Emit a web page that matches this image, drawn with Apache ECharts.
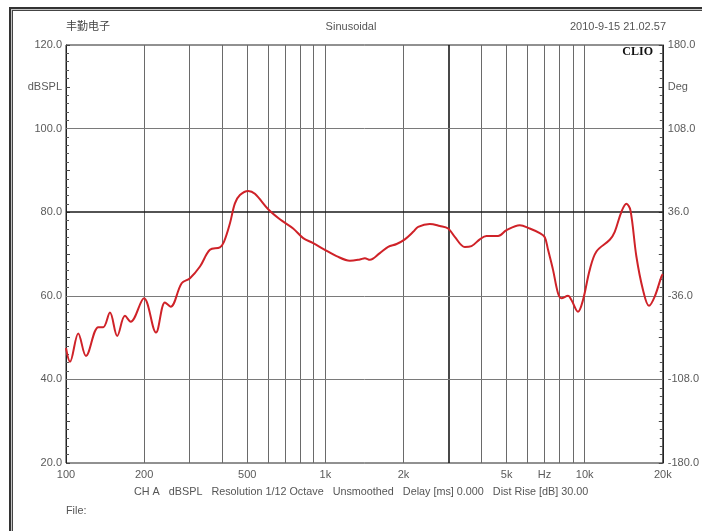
<!DOCTYPE html>
<html>
<head>
<meta charset="utf-8">
<script src="https://cdn.jsdelivr.net/npm/echarts@6/dist/echarts.min.js"></script>
<style>
html,body{margin:0;padding:0;background:#fff;}
#wrap{position:relative;width:702px;height:531px;overflow:hidden;background:#fff;}
#frame{position:absolute;left:9px;top:7px;width:800px;height:800px;border-left:2px solid #333;border-top:2px solid #333;background:#c4c4c4;}
#frameIn{position:absolute;left:1px;top:1px;right:0;bottom:0;border-left:1px solid #444;border-top:1px solid #444;background:#fff;}
#chart{position:absolute;left:0;top:0;width:702px;height:531px;}
</style>
</head>
<body>
<div id="wrap">
  <div id="frame"><div id="frameIn"></div></div>
  <div id="chart"></div>
</div>
<script>
// Frequency (Hz) of the sampled points
var freqs = [100,103.6,111.5,119.4,133.2,139.2,147.7,157.6,168.8,177.6,199.8,222.3,240.7,253.2,279.2,300.6,328.5,358.9,392.2,406.4,428.5,448,468.3,504.1,535,602,667.8,751.3,821.3,897.4,995.6,1104,1243,1358,1420,1485,1622,1746,1882,2025,2180,2279,2527,2762,2974,3155,3448,3660,3938,4180,4633,4993,5617,6138,6708,7013,7221,7547,7889,8133,8620,8885,9423,9849,10454,11095,12487,13052,13850,14478,15001,15818,16775,17692,18610,19752,20000];
// Sound pressure level (dBSPL)
var spl = [47.5,44.2,51.0,45.6,52.5,52.5,56.0,50.4,55.2,53.8,59.4,51.2,58.4,57.4,63.0,64.2,67.0,71.0,71.6,72.9,77.3,82.1,84.1,85.1,84.4,80.7,78.3,76.1,73.8,72.6,71.0,69.5,68.4,68.7,69.0,68.6,70.2,71.7,72.4,73.5,75.3,76.5,77.2,76.7,76.1,74.1,71.7,71.9,73.5,74.3,74.3,75.7,76.9,76.1,75.0,74.0,71.0,66.2,60.6,59.4,60.0,59.0,56.2,59.0,66.2,70.6,73.4,75.3,80.1,82.0,80.5,69.4,61.4,57.6,59.8,64.6,65.2];
// Vertical grid frequencies
var gridFreqs = [200,300,400,500,600,700,800,900,1000,2000,3000,4000,5000,6000,7000,8000,9000,10000];
var markerFreq = 3000;
// X tick labels
var xTickValues = [100,200,500,1000,2000,5000,7000,10000,20000];
var xTickLabels = ['100','200','500','1k','2k','5k','Hz','10k','20k'];
// Horizontal grid levels (dB)
var gridLevels = [40,60,100];
var markerLevel = 80;
// Y labels
var leftLabels = {120:'120.0',110:'dBSPL',100:'100.0',80:'80.0',60:'60.0',40:'40.0',20:'20.0'};
var rightLabels = {'180':'180.0','144':'Deg','108':'108.0','36':'36.0','-36':'-36.0','-108':'-108.0','-180':'-180.0'};
// Header / footer texts
var titleLeft = '丰勤电子';
var titleCenter = 'Sinusoidal';
var titleRight = '2010-9-15 21.02.57';
var logoText = 'CLIO';
var footerText = 'CH A   dBSPL   Resolution 1/12 Octave   Unsmoothed   Delay [ms] 0.000   Dist Rise [dB] 30.00';
var fileText = 'File:';

var FONT = '"Liberation Sans", Arial, sans-serif';
var LABEL_COLOR = '#5a5a5a';

var gridMarks = [];
gridFreqs.forEach(function (f) {
  var isMarker = f === markerFreq;
  var idx = xTickValues.indexOf(f);
  gridMarks.push({
    xAxis: f,
    lineStyle: {color: isMarker ? '#1a1a1a' : '#6a6a6a', width: isMarker ? 1.6 : 1, type: 'solid'},
    label: idx >= 0 ? {show: true, formatter: xTickLabels[idx]} : {show: false}
  });
});
xTickValues.forEach(function (f, i) {
  if (gridFreqs.indexOf(f) < 0) {
    gridMarks.push({
      xAxis: f,
      lineStyle: {color: 'rgba(0,0,0,0)', width: 1},
      label: {show: true, formatter: xTickLabels[i], color: LABEL_COLOR}
    });
  }
});
gridLevels.forEach(function (v) {
  gridMarks.push({yAxis: v, lineStyle: {color: '#7a7a7a', width: 1, type: 'solid'}, label: {show: false}});
});
gridMarks.push({yAxis: markerLevel, lineStyle: {color: '#1a1a1a', width: 1.6, type: 'solid'}, label: {show: false}});

var chart = echarts.init(document.getElementById('chart'), null, {renderer: 'canvas'});
chart.setOption({
  animation: false,
  backgroundColor: 'transparent',
  grid: {left: 66, right: 39, top: 45, bottom: 68, show: true, borderColor: '#222', borderWidth: 1, backgroundColor: 'transparent'},
  xAxis: {
    type: 'log', logBase: 10, min: 100, max: 20000,
    axisLine: {show: false}, axisTick: {show: false}, axisLabel: {show: false},
    splitLine: {show: false}, minorTick: {show: false}, minorSplitLine: {show: false}
  },
  yAxis: [{
    type: 'value', min: 20, max: 120, interval: 10, position: 'left',
    axisLine: {show: true, lineStyle: {color: '#222', width: 1}},
    axisTick: {show: true, inside: true, length: 4, lineStyle: {color: '#444'}},
    minorTick: {show: true, splitNumber: 5, length: 3, lineStyle: {color: '#555'}},
    splitLine: {show: false},
    axisLabel: {
      margin: 4, color: LABEL_COLOR, fontFamily: FONT, fontSize: 11,
      formatter: function (v) { return leftLabels[v] || ''; }
    }
  }, {
    type: 'value', min: -180, max: 180, interval: 36, position: 'right',
    axisLine: {show: true, lineStyle: {color: '#222', width: 1}},
    axisTick: {show: true, inside: true, length: 4, lineStyle: {color: '#444'}},
    minorTick: {show: true, splitNumber: 5, length: 3, lineStyle: {color: '#555'}},
    splitLine: {show: false},
    axisLabel: {
      margin: 5, color: LABEL_COLOR, fontFamily: FONT, fontSize: 11,
      formatter: function (v) { return rightLabels[String(Math.round(v))] || ''; }
    }
  }],
  graphic: [
    {type: 'text', left: 66, top: 20, style: {text: titleLeft, fill: '#444', font: '11px "Noto Sans CJK SC", sans-serif'}},
    {type: 'text', left: 'center', top: 21, style: {text: titleCenter, fill: '#555', font: '11px ' + FONT}},
    {type: 'text', right: 36, top: 21, style: {text: titleRight, fill: '#555', font: '11px ' + FONT}},
    {type: 'text', right: 49, top: 46, style: {text: logoText, fill: '#111', font: 'bold 12px "Liberation Serif", "DejaVu Serif", serif'}},
    {type: 'text', left: 134, top: 487, style: {text: footerText, fill: '#555', font: '10.8px ' + FONT}},
    {type: 'text', left: 66, top: 506, style: {text: fileText, fill: '#555', font: '10.8px ' + FONT}}
  ],
  series: [{
    type: 'line', data: [], z: 1, silent: true,
    markLine: {
      silent: true, symbol: ['none', 'none'], animation: false,
      label: {position: 'start', distance: 6, color: LABEL_COLOR, fontFamily: FONT, fontSize: 11},
      emphasis: {disabled: true},
      data: gridMarks
    }
  }, {
    type: 'line', z: 5, silent: true,
    data: freqs.map(function (f, i) { return [f, spl[i]]; }),
    showSymbol: false, smooth: 0.35,
    lineStyle: {color: '#cf2228', width: 2},
    itemStyle: {color: '#cf2228'}
  }]
});
</script>
</body>
</html>
